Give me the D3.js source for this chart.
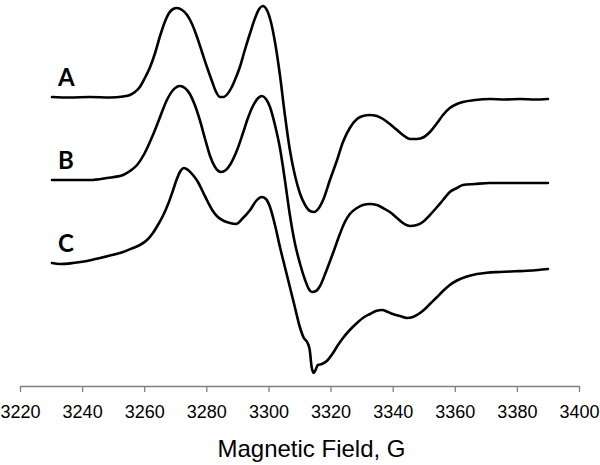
<!DOCTYPE html>
<html>
<head>
<meta charset="utf-8">
<script src="https://cdn.jsdelivr.net/npm/d3@7"></script>
<style>
  body { margin: 0; background: #fff; }
  svg { display: block; }
</style>
</head>
<body>
<div id="chart"></div>
<script>
// EPR spectra, [field (G), signal (a.u., relative to own baseline)]
const spectrumA = [
  [3230.3, 0], [3236.1, -0.5], [3242.5, 0], [3249.0, -0.5], [3253.2, 0.5], [3255.4, 2],
  [3257.0, 5], [3258.6, 10], [3260.2, 19], [3261.9, 30], [3263.5, 44], [3265.0, 60],
  [3266.5, 74], [3268.0, 84], [3269.3, 88], [3270.5, 89], [3272.2, 87], [3273.8, 82],
  [3275.4, 73], [3277.0, 60], [3278.6, 45], [3280.2, 30], [3281.8, 16], [3283.0, 6],
  [3284.4, 0], [3285.5, 0], [3286.8, 3], [3288.2, 10], [3289.6, 20], [3290.8, 30],
  [3292.4, 47], [3294.1, 64], [3295.7, 79], [3297.0, 88], [3298.2, 91], [3299.5, 87],
  [3300.8, 75], [3302.1, 55], [3303.7, 22], [3305.3, -18], [3306.9, -53], [3308.5, -78],
  [3310.1, -96], [3311.8, -108], [3313.4, -114], [3314.7, -115], [3316.0, -112], [3317.6, -103],
  [3319.8, -83], [3322.1, -63], [3324.0, -45], [3326.2, -31], [3328.5, -22], [3330.4, -19],
  [3332.7, -18], [3334.9, -19], [3336.9, -22], [3339.1, -27], [3341.4, -33], [3343.3, -38],
  [3345.6, -42], [3347.8, -42], [3350.1, -40], [3352.0, -35], [3354.3, -26], [3356.2, -18],
  [3358.4, -11], [3360.7, -7], [3362.6, -5], [3366.5, -3], [3371.3, -2], [3376.1, -2.5],
  [3381.0, -2], [3385.8, -2.5], [3390.0, -2]
];

const spectrumB = [
  [3230.3, 0], [3236.1, 0], [3242.5, 0], [3248.0, 2], [3253.2, 5], [3255.4, 9],
  [3257.7, 15], [3260.0, 26], [3262.8, 45], [3265.1, 63], [3267.3, 80], [3269.3, 90],
  [3271.5, 94], [3273.1, 92], [3274.7, 86], [3276.3, 75], [3277.9, 60], [3279.6, 41],
  [3281.2, 24], [3282.8, 13], [3284.7, 8], [3286.3, 10], [3287.6, 15], [3289.9, 30],
  [3291.8, 47], [3293.4, 62], [3295.0, 74], [3296.7, 82], [3297.9, 84], [3299.2, 81],
  [3300.5, 73], [3302.1, 55], [3303.7, 32], [3305.3, 0], [3306.9, -35], [3308.5, -63],
  [3310.1, -83], [3311.8, -100], [3313.0, -109], [3314.0, -112], [3315.3, -111], [3316.6, -106],
  [3318.5, -92], [3320.8, -73], [3323.0, -54], [3324.6, -42], [3326.2, -34], [3328.5, -28],
  [3330.4, -25], [3332.7, -24], [3334.9, -25], [3336.9, -28], [3339.1, -32], [3341.4, -38],
  [3343.3, -43], [3345.6, -46], [3347.8, -45], [3349.7, -42], [3352.0, -35], [3354.3, -27],
  [3356.2, -20], [3358.4, -12], [3360.7, -8], [3362.6, -5], [3366.5, -4], [3371.3, -3],
  [3377.8, -3], [3384.2, -3], [3390.0, -3]
];

const spectrumC = [
  [3230.3, 0], [3232.9, -1], [3237.1, 0], [3241.6, 2], [3245.8, 5], [3249.6, 8],
  [3253.2, 11], [3256.4, 15], [3258.6, 18], [3260.9, 23], [3262.8, 30], [3264.4, 38],
  [3266.0, 47], [3267.7, 59], [3269.3, 73], [3270.5, 84], [3271.5, 91], [3272.8, 95],
  [3274.1, 93], [3275.7, 88], [3277.3, 81], [3278.9, 71], [3280.5, 61], [3282.1, 52],
  [3283.7, 46], [3285.7, 42], [3287.6, 40], [3289.5, 39], [3291.8, 45], [3294.1, 53],
  [3296.0, 62], [3297.9, 66], [3299.2, 64], [3300.5, 56], [3302.1, 38], [3303.7, 16],
  [3305.3, -4], [3306.9, -24], [3308.5, -44], [3310.1, -64], [3311.4, -75], [3312.6, -80],
  [3313.3, -87], [3313.9, -104], [3314.6, -110], [3315.3, -106], [3315.9, -102], [3317.2, -101],
  [3318.8, -98], [3320.8, -90], [3322.4, -82], [3324.0, -75], [3326.2, -67], [3328.5, -60],
  [3330.4, -55], [3332.7, -51], [3334.6, -48], [3336.6, -47], [3338.5, -49], [3340.1, -51],
  [3342.3, -53], [3344.6, -55], [3346.5, -54], [3348.8, -50], [3350.4, -46], [3352.0, -41],
  [3354.3, -34], [3356.2, -28], [3358.4, -22], [3360.7, -17.5], [3363.9, -13.5], [3367.1, -11],
  [3370.3, -9.7], [3374.5, -9], [3379.4, -8.3], [3383.2, -7.8], [3386.8, -7], [3390.0, -6]
];

const seriesNames = ["A", "B", "C"];
const seriesOffsets = [289, 206, 123];   // vertical stacking offsets (a.u.)
const xTicks = [3220, 3240, 3260, 3280, 3300, 3320, 3340, 3360, 3380, 3400];
const xTitle = "Magnetic Field, G";

const width = 600, height = 465;
const margin = { top: 0, right: 21, bottom: 79, left: 20 };

const svg = d3.select("#chart").append("svg")
  .attr("width", width)
  .attr("height", height);

const x = d3.scaleLinear()
  .domain([3220, 3400])
  .range([margin.left, width - margin.right]);

const y = d3.scaleLinear()
  .domain([0, 386])
  .range([height - margin.bottom, margin.top]);

// x axis
const axis = svg.append("g")
  .attr("transform", `translate(0, ${y(0)})`)
  .call(d3.axisBottom(x).tickValues(xTicks).tickSize(6).tickSizeOuter(0).tickFormat(d3.format("d")));
axis.select(".domain").attr("stroke", "#808080").attr("stroke-width", 1.3);
axis.selectAll(".tick line").attr("stroke", "#808080").attr("stroke-width", 1.3);
axis.selectAll(".tick text")
  .attr("y", 19)
  .attr("dy", "0.71em")
  .attr("fill", "#000")
  .style("font-family", "Liberation Sans, Arial, sans-serif")
  .style("font-size", "18px");

svg.append("text")
  .attr("x", (x(3220) + x(3400)) / 2 + 12)
  .attr("y", 457)
  .attr("text-anchor", "middle")
  .style("font-family", "Liberation Sans, Arial, sans-serif")
  .style("font-size", "24px")
  .text(xTitle);

// spectra
const spectra = [spectrumA, spectrumB, spectrumC];

spectra.forEach((s, i) => {
  const line = d3.line()
    .x(d => x(d[0]))
    .y(d => y(d[1] + seriesOffsets[i]))
    .curve(d3.curveMonotoneX);

  svg.append("path")
    .datum(s)
    .attr("d", line)
    .attr("fill", "none")
    .attr("stroke", "#000")
    .attr("stroke-width", 2.6)
    .attr("stroke-linejoin", "round")
    .attr("stroke-linecap", "round");

  svg.append("text")
    .attr("x", 58)
    .attr("y", y(seriesOffsets[i]) - 11)
    .style("font-family", "Lato, 'Open Sans', sans-serif")
    .style("font-weight", "bold")
    .style("font-size", "24px")
    .text(seriesNames[i]);
});
</script>
</body>
</html>
